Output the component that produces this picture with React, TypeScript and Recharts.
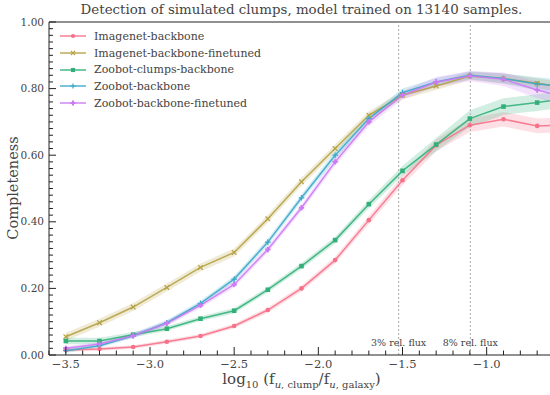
import { ComposedChart, Line, Area, XAxis, YAxis, ReferenceLine } from 'recharts';

// log10 of clump/galaxy flux ratio (last point sits past the right edge and gets clipped)
const logFlux = [-3.5, -3.3, -3.1, -2.9, -2.7, -2.5, -2.3, -2.1, -1.9, -1.7, -1.5, -1.3, -1.1, -0.9, -0.7, -0.5];

const imagenetBackbone = [0.015, 0.018, 0.024, 0.04, 0.057, 0.087, 0.135, 0.2, 0.285, 0.405, 0.525, 0.63, 0.69, 0.708, 0.688, 0.692];
const imagenetFinetuned = [0.055, 0.097, 0.144, 0.203, 0.263, 0.308, 0.409, 0.52, 0.62, 0.72, 0.78, 0.808, 0.838, 0.83, 0.816, 0.8];
const zoobotClumps = [0.042, 0.042, 0.061, 0.079, 0.109, 0.133, 0.196, 0.267, 0.345, 0.453, 0.553, 0.632, 0.71, 0.746, 0.758, 0.772];
const zoobotBackbone = [0.013, 0.028, 0.058, 0.097, 0.155, 0.228, 0.339, 0.472, 0.6, 0.71, 0.788, 0.82, 0.84, 0.83, 0.814, 0.805];
const zoobotFinetuned = [0.02, 0.033, 0.058, 0.095, 0.149, 0.212, 0.317, 0.442, 0.58, 0.7, 0.78, 0.82, 0.838, 0.828, 0.796, 0.77];

// half-width of the shaded bands
const imagenetBackboneErr = [0.005, 0.005, 0.005, 0.006, 0.006, 0.007, 0.008, 0.009, 0.01, 0.012, 0.015, 0.018, 0.02, 0.022, 0.022, 0.022];
const imagenetFinetunedErr = [0.012, 0.012, 0.012, 0.012, 0.012, 0.012, 0.012, 0.012, 0.012, 0.012, 0.012, 0.012, 0.012, 0.015, 0.015, 0.015];
const zoobotClumpsErr = [0.01, 0.01, 0.008, 0.007, 0.007, 0.008, 0.008, 0.009, 0.01, 0.012, 0.015, 0.02, 0.025, 0.025, 0.025, 0.025];
const zoobotBackboneErr = [0.006, 0.006, 0.007, 0.008, 0.008, 0.009, 0.01, 0.01, 0.012, 0.012, 0.012, 0.012, 0.012, 0.015, 0.02, 0.02];
const zoobotFinetunedErr = [0.006, 0.006, 0.007, 0.008, 0.008, 0.009, 0.01, 0.01, 0.012, 0.012, 0.012, 0.015, 0.015, 0.02, 0.025, 0.025];

const yMajorTicks = [0, 0.2, 0.4, 0.6, 0.8, 1.0];
const xMajorTicks = [-3.5, -3.0, -2.5, -2.0, -1.5, -1.0];

const fluxMarks = [
  { x: -1.523, label: '3% rel. flux' },
  { x: -1.097, label: '8% rel. flux' },
];

const FONT = '"DejaVu Serif", serif';
const TEXT = '#444';

const series = [
  { key: 'imagenetBackbone', name: 'Imagenet-backbone', color: '#f77189', marker: 'o', values: imagenetBackbone, err: imagenetBackboneErr },
  { key: 'imagenetFinetuned', name: 'Imagenet-backbone-finetuned', color: '#b5a245', marker: 'x', values: imagenetFinetuned, err: imagenetFinetunedErr },
  { key: 'zoobotClumps', name: 'Zoobot-clumps-backbone', color: '#33b07a', marker: 's', values: zoobotClumps, err: zoobotClumpsErr },
  { key: 'zoobotBackbone', name: 'Zoobot-backbone', color: '#38a8c8', marker: '+', values: zoobotBackbone, err: zoobotBackboneErr },
  { key: 'zoobotFinetuned', name: 'Zoobot-backbone-finetuned', color: '#cc7af4', marker: 'P', values: zoobotFinetuned, err: zoobotFinetunedErr },
];

const data = logFlux.map((x, i) => {
  const row: any = { x };
  series.forEach((s) => {
    row[s.key] = s.values[i];
    row[s.key + 'Band'] = [s.values[i] - s.err[i], s.values[i] + s.err[i]];
  });
  return row;
});

const round = (v: number) => Math.round(v * 1000) / 1000;
const yTicks = Array.from({ length: 51 }, (_, i) => round(i * 0.02));
const xTicks = Array.from({ length: 31 }, (_, i) => round(-3.6 + i * 0.1));

const TICK_GAP = 6;

function YTick({ x, y, payload }: any) {
  const v = payload.value;
  const major = yMajorTicks.some((t) => Math.abs(t - v) < 1e-6);
  const ax = x + TICK_GAP;
  return (
    <g>
      <line x1={ax} x2={ax + (major ? 7 : 4)} y1={y} y2={y} stroke="#222" strokeWidth={1} />
      {major && (
        <text x={ax - 5} y={y} dy="0.35em" textAnchor="end" fill={TEXT} fontSize={10.5} fontFamily={FONT}>
          {v.toFixed(2)}
        </text>
      )}
    </g>
  );
}

function XTick({ x, y, payload }: any) {
  const v = payload.value;
  const major = xMajorTicks.some((t) => Math.abs(t - v) < 1e-6);
  const ay = y - TICK_GAP;
  return (
    <g>
      <line x1={x} x2={x} y1={ay} y2={ay - (major ? 8 : 4.5)} stroke="#222" strokeWidth={1} />
      {major && (
        <text x={x} y={ay + 13} textAnchor="middle" fill={TEXT} fontSize={11.5} fontFamily={FONT}>
          {'\u2212' + Math.abs(v).toFixed(1)}
        </text>
      )}
    </g>
  );
}

function Marker({ type, cx, cy, color, size = 1 }: any) {
  if (cx == null || cy == null) return null;
  const r = 2.3 * size;
  if (type === 'o') return <circle cx={cx} cy={cy} r={r} fill={color} />;
  if (type === 's') return <rect x={cx - r} y={cy - r} width={2 * r} height={2 * r} fill={color} />;
  if (type === 'x')
    return (
      <path d={`M${cx - r},${cy - r}L${cx + r},${cy + r}M${cx - r},${cy + r}L${cx + r},${cy - r}`} stroke={color} strokeWidth={1.2} />
    );
  if (type === '+')
    return <path d={`M${cx - r - 0.5},${cy}L${cx + r + 0.5},${cy}M${cx},${cy - r - 0.5}L${cx},${cy + r + 0.5}`} stroke={color} strokeWidth={1.2} />;
  const a = r + 0.4;
  const b = 1;
  return (
    <path
      d={`M${cx - b},${cy - a}H${cx + b}V${cy - b}H${cx + a}V${cy + b}H${cx + b}V${cy + a}H${cx - b}V${cy + b}H${cx - a}V${cy - b}H${cx - b}Z`}
      fill={color}
    />
  );
}

function Legend() {
  return (
    <div style={{ position: 'absolute', left: 60, top: 28, fontFamily: FONT, fontSize: 11, color: TEXT }}>
      {series.map((s) => (
        <div key={s.key} style={{ display: 'flex', alignItems: 'center', height: 16.7 }}>
          <svg width={26} height={10} style={{ marginRight: 8 }}>
            <line x1={0} x2={26} y1={5} y2={5} stroke={s.color} strokeWidth={1.5} strokeOpacity={0.9} />
            <Marker type={s.marker} cx={13} cy={5} color={s.color} size={0.9} />
          </svg>
          <span>{s.name}</span>
        </div>
      ))}
    </div>
  );
}

export default function App() {
  return (
    <div style={{ position: 'relative', width: 550, height: 395, overflow: 'hidden', background: '#fff' }}>
      <style>{'body{margin:0;overflow:hidden}'}</style>
      <ComposedChart width={556} height={395} data={data} margin={{ top: 22, right: 2, bottom: 0, left: 0 }}>
        <XAxis
          dataKey="x"
          type="number"
          domain={[-3.6, -0.6]}
          allowDataOverflow
          ticks={xTicks}
          interval={0}
          tickSize={0}
          tickMargin={TICK_GAP}
          tick={<XTick />}
          axisLine={{ stroke: '#222', strokeWidth: 1 }}
          height={40}
        />
        <YAxis
          type="number"
          domain={[0, 1]}
          allowDataOverflow
          ticks={yTicks}
          interval={0}
          tickSize={0}
          tickMargin={TICK_GAP}
          tick={<YTick />}
          axisLine={{ stroke: '#222', strokeWidth: 1 }}
          width={49}
        />
        <ReferenceLine y={1} stroke="#222" strokeWidth={1} />
        {series.map((s) => (
          <Area
            key={s.key + 'Band'}
            dataKey={s.key + 'Band'}
            stroke="none"
            fill={s.color}
            fillOpacity={0.22}
            type="linear"
            isAnimationActive={false}
            activeDot={false}
          />
        ))}
        {fluxMarks.map((m) => (
          <ReferenceLine
            key={m.label}
            x={m.x}
            stroke="#aaa"
            strokeWidth={1}
            strokeDasharray="2 2"
            label={{ value: m.label, position: 'insideBottom', offset: 9, fill: TEXT, fontSize: 9.5, fontFamily: FONT }}
          />
        ))}
        {series.map((s) => (
          <Line
            key={s.key}
            dataKey={s.key}
            type="linear"
            stroke={s.color}
            strokeWidth={1.5}
            strokeOpacity={0.9}
            isAnimationActive={false}
            activeDot={false}
            dot={(p: any) => <Marker key={s.key + p.index} type={s.marker} cx={p.cx} cy={p.cy} color={s.color} />}
          />
        ))}
      </ComposedChart>
      <div
        style={{
          position: 'absolute',
          left: 49,
          width: 505,
          top: 2,
          textAlign: 'center',
          fontFamily: FONT,
          fontSize: 13.4,
          color: TEXT,
          whiteSpace: 'nowrap',
        }}
      >
        Detection of simulated clumps, model trained on 13140 samples.
      </div>
      <div
        style={{
          position: 'absolute',
          left: 13,
          top: 188,
          transform: 'translate(-50%, -50%) rotate(-90deg)',
          fontFamily: FONT,
          fontSize: 14.5,
          color: TEXT,
          whiteSpace: 'nowrap',
        }}
      >
        Completeness
      </div>
      <div
        style={{
          position: 'absolute',
          left: 49,
          width: 505,
          top: 370,
          textAlign: 'center',
          fontFamily: FONT,
          fontSize: 15,
          color: TEXT,
          whiteSpace: 'nowrap',
          lineHeight: '18px',
        }}
      >
        log<sub style={{ fontSize: 10 }}>10</sub> (f<sub style={{ fontSize: 10 }}><i>u</i>, clump</sub>/f
        <sub style={{ fontSize: 10 }}><i>u</i>, galaxy</sub>)
      </div>
      <Legend />
    </div>
  );
}
